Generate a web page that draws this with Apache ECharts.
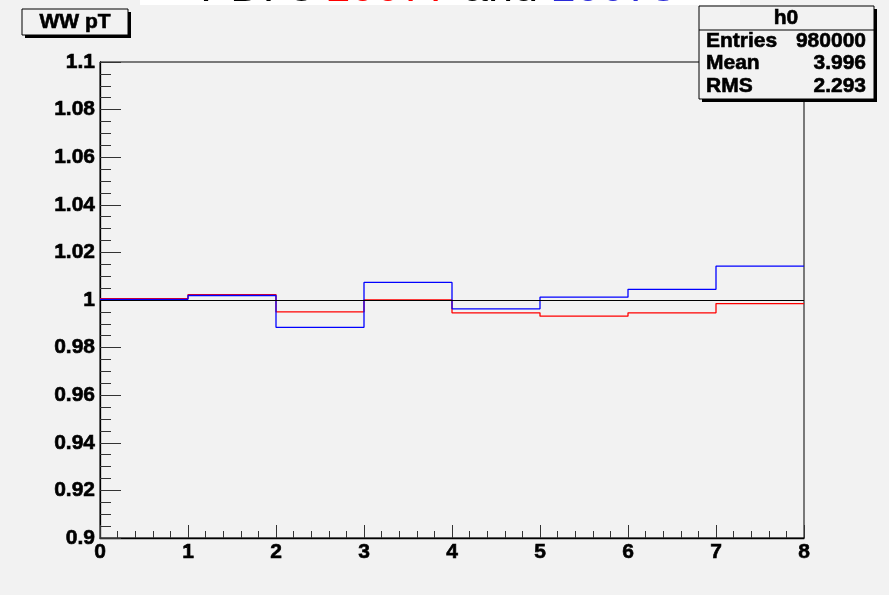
<!DOCTYPE html>
<html>
<head>
<meta charset="utf-8">
<script src="https://cdn.jsdelivr.net/npm/echarts@6/dist/echarts.min.js"></script>
<style>
html,body{margin:0;padding:0;background:#f2f2f2;}
#c{width:889px;height:595px;}
</style>
</head>
<body>
<div id="c"></div>
<script>
// ---- data ----
const binEdges = [0, 1, 2, 3, 4, 5, 6, 7, 8];
const pdf10077 = [1.0006, 1.0023, 0.9950, 1.0000, 0.9946, 0.9932, 0.9946, 0.9985];
const pdf10078 = [1.0003, 1.0019, 0.9885, 1.0074, 0.9963, 1.0012, 1.0045, 1.0142];
const referenceLevel = 1;
const titleParts = ['PDFs ', '10077', ' and ', '10078'];
const histLabel = 'WW pT';
const statsName = 'h0';
const statsLabels = ['Entries', 'Mean', 'RMS'];
const statsValues = ['980000', '3.996', '2.293'];

function stepPoints(vals) {
  return binEdges.map((x, i) => [x, vals[Math.min(i, vals.length - 1)]]);
}

const FONT = 'Liberation Sans';
const BOLD = 'bold 21px "' + FONT + '"';
const chart = echarts.init(document.getElementById('c'), null, {renderer: 'canvas'});

const heavy = {stroke: '#000', lineWidth: 0.6};
const statRowsY = [41, 63, 86];
const statsGraphics = [];
statsLabels.forEach((lab, i) => {
  statsGraphics.push({
    type: 'text', x: 706, y: statRowsY[i], z: 102,
    style: Object.assign({text: lab, font: BOLD, fill: '#000', verticalAlign: 'middle', align: 'left'}, heavy)
  });
  statsGraphics.push({
    type: 'text', x: 866, y: statRowsY[i], z: 102,
    style: Object.assign({text: statsValues[i], font: BOLD, fill: '#000', verticalAlign: 'middle', align: 'right'}, heavy)
  });
});

const labelStyle = {color: '#000', fontFamily: FONT, fontWeight: 'bold', fontSize: 21, textBorderColor: '#000', textBorderWidth: 0.6};

const option = {
  animation: false,
  backgroundColor: '#f2f2f2',
  grid: {left: 100, right: 85, top: 62, bottom: 57, show: true, borderColor: '#000', borderWidth: 1, backgroundColor: 'transparent'},
  xAxis: {
    type: 'value', min: 0, max: 8, interval: 1,
    axisLine: {show: true, onZero: false, lineStyle: {color: '#000', width: 1.3}},
    axisTick: {show: true, inside: true, length: 13, lineStyle: {color: '#333'}},
    minorTick: {show: true, splitNumber: 5, length: 7, lineStyle: {color: '#333'}},
    splitLine: {show: false},
    axisLabel: Object.assign({margin: 4}, labelStyle)
  },
  yAxis: {
    type: 'value', min: 0.9, max: 1.1, interval: 0.02,
    axisLine: {show: true, lineStyle: {color: '#000', width: 1.3}},
    axisTick: {show: true, inside: true, length: 21, lineStyle: {color: '#333'}},
    minorTick: {show: true, splitNumber: 4, length: 11, lineStyle: {color: '#333'}},
    splitLine: {show: false},
    axisLabel: Object.assign({margin: 5, formatter: v => parseFloat(v.toFixed(2)).toString()}, labelStyle)
  },
  series: [
    {
      name: '10077', type: 'line', step: 'end', data: stepPoints(pdf10077),
      showSymbol: false, symbol: 'none', lineStyle: {color: '#ff0000', width: 1.3}, z: 2
    },
    {
      name: '10078', type: 'line', step: 'end', data: stepPoints(pdf10078),
      showSymbol: false, symbol: 'none', lineStyle: {color: '#0000ff', width: 1.3}, z: 3,
      markLine: {
        silent: true, symbol: ['none', 'none'], label: {show: false},
        lineStyle: {color: '#000', width: 1, type: 'solid'},
        data: [{yAxis: referenceLevel}]
      }
    }
  ],
  graphic: [
    // title pave (cut at top)
    {type: 'rect', shape: {x: 140, y: 0, width: 600, height: 5}, style: {fill: '#ffffff'}, z: 100},
    {type: 'text', x: 438, y: -11, z: 101,
      style: {
        text: '{k|' + titleParts[0] + '}{r|' + titleParts[1] + '}{k|' + titleParts[2] + '}{b|' + titleParts[3] + '}',
        align: 'center', verticalAlign: 'middle',
        rich: {
          k: {fontFamily: FONT, fontSize: 45, fill: '#000', color: '#000'},
          r: {fontFamily: FONT, fontSize: 45, fill: '#ff0000', color: '#ff0000'},
          b: {fontFamily: FONT, fontSize: 45, fill: '#2a2ad8', color: '#2a2ad8'}
        }
      }
    },
    // histogram label box
    {type: 'rect', shape: {x: 25, y: 12, width: 106, height: 26}, style: {fill: '#000'}, z: 100},
    {type: 'rect', shape: {x: 22, y: 9, width: 106, height: 26}, style: {fill: '#f2f2f2', stroke: '#000', lineWidth: 1}, z: 101},
    {type: 'text', x: 75, y: 22, z: 102,
      style: Object.assign({text: histLabel, font: BOLD, fill: '#000', align: 'center', verticalAlign: 'middle'}, heavy)},
    // stats box
    {type: 'rect', shape: {x: 702, y: 9, width: 175, height: 93}, style: {fill: '#000'}, z: 100},
    {type: 'rect', shape: {x: 699, y: 6, width: 175, height: 93}, style: {fill: '#f2f2f2', stroke: '#000', lineWidth: 1}, z: 101},
    {type: 'line', shape: {x1: 699, y1: 30, x2: 874, y2: 30}, style: {stroke: '#000', lineWidth: 1}, z: 102},
    {type: 'text', x: 786, y: 18, z: 102,
      style: Object.assign({text: statsName, font: BOLD, fill: '#000', align: 'center', verticalAlign: 'middle'}, heavy)}
  ].concat(statsGraphics)
};
chart.setOption(option);
</script>
</body>
</html>
